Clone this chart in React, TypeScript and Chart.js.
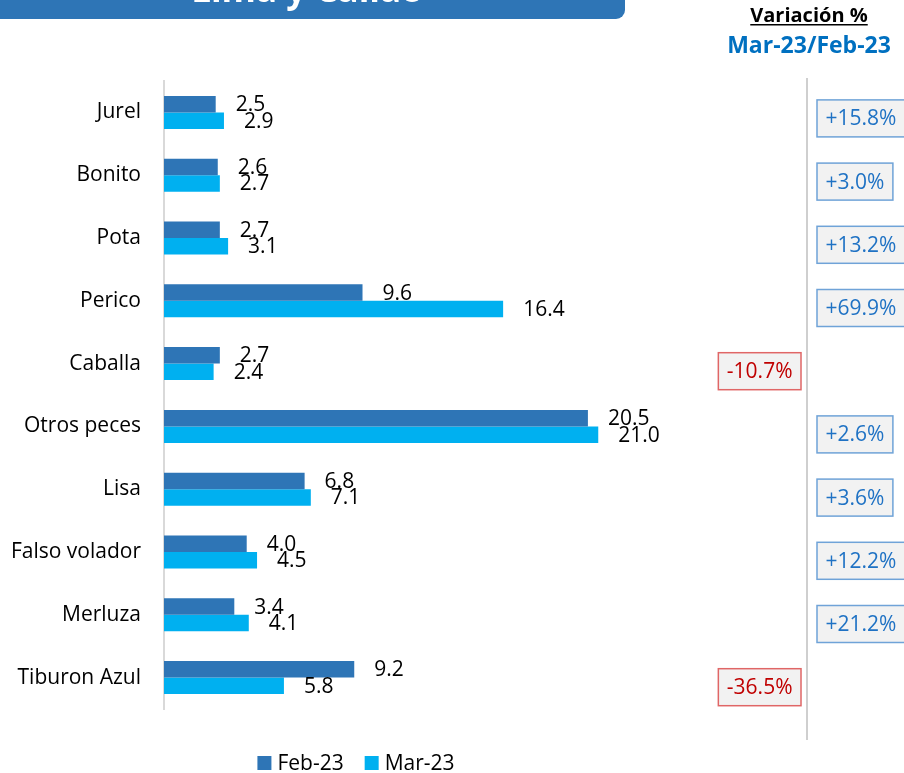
import React, { useEffect, useRef } from 'react';
import { Chart, registerables } from 'chart.js';

Chart.register(...registerables);

const categories = ['Jurel', 'Bonito', 'Pota', 'Perico', 'Caballa', 'Otros peces', 'Lisa', 'Falso volador', 'Merluza', 'Tiburon Azul'];
const feb23 = [2.5, 2.6, 2.7, 9.6, 2.7, 20.5, 6.8, 4.0, 3.4, 9.2];
const mar23 = [2.9, 2.7, 3.1, 16.4, 2.4, 21.0, 7.1, 4.5, 4.1, 5.8];
const variation = [15.8, 3.0, 13.2, 69.9, -10.7, 2.6, 3.6, 12.2, 21.2, -36.5];
const seriesLabels = ['Feb-23', 'Mar-23'];
const titleText = 'Lima y Callao';
const varHeader = 'Variación %';
const varSub = 'Mar-23/Feb-23';

const FEB_COLOR = '#2E75B6';
const MAR_COLOR = '#00B0F0';
const FONT = "'Open Sans', sans-serif";

const decorPlugin = {
  id: 'decor',
  afterDatasetsDraw(chart: any) {
    const ctx = chart.ctx;
    ctx.save();
    ctx.font = `21px ${FONT}`;
    ctx.fillStyle = '#000';
    ctx.textAlign = 'left';
    ctx.textBaseline = 'middle';
    chart.data.datasets.forEach((ds: any, di: number) => {
      const meta = chart.getDatasetMeta(di);
      meta.data.forEach((el: any, i: number) => {
        ctx.fillText(Number(ds.data[i]).toFixed(1), el.x + 20, el.y + 1);
      });
    });
    ctx.restore();
  },
  afterDraw(chart: any) {
    const ctx = chart.ctx;
    const yScale = chart.scales.y;
    ctx.save();

    // Title banner (cut at top)
    ctx.fillStyle = '#2E75B6';
    ctx.beginPath();
    (ctx as any).roundRect(-12, -40, 637, 59, 9);
    ctx.fill();
    ctx.fillStyle = '#FFFFFF';
    ctx.font = `bold 35px ${FONT}`;
    ctx.textAlign = 'center';
    ctx.textBaseline = 'alphabetic';
    ctx.fillText(titleText, 307, 2);

    // Header
    ctx.fillStyle = '#000';
    ctx.font = `bold 20px ${FONT}`;
    ctx.fillText(varHeader, 809, 22);
    const hw = ctx.measureText(varHeader).width;
    ctx.fillRect(809 - hw / 2, 24, hw, 1.5);
    ctx.fillStyle = '#0070C0';
    ctx.font = `bold 23px ${FONT}`;
    ctx.fillText(varSub, 809, 53);

    // Separator line
    const lineX = 807;
    ctx.strokeStyle = '#BFBFBF';
    ctx.lineWidth = 1.5;
    ctx.beginPath();
    ctx.moveTo(lineX, 78);
    ctx.lineTo(lineX, 740);
    ctx.stroke();

    // Variation boxes
    ctx.font = `21px ${FONT}`;
    ctx.textBaseline = 'middle';
    ctx.textAlign = 'left';
    variation.forEach((v, i) => {
      const cy = yScale.getPixelForValue(i) + 6 + i * 0.4;
      const txt = (v >= 0 ? '+' : '') + v.toFixed(1) + '%';
      const tw = ctx.measureText(txt).width;
      const bw = tw + 17;
      const bh = 37;
      const bx = v >= 0 ? lineX + 10 : lineX - 6 - bw;
      const by = cy - bh / 2;
      ctx.fillStyle = '#F2F2F2';
      ctx.fillRect(bx, by, bw, bh);
      ctx.strokeStyle = v >= 0 ? '#6FA3D8' : '#E06666';
      ctx.lineWidth = 1.5;
      ctx.strokeRect(bx, by, bw, bh);
      ctx.fillStyle = v >= 0 ? '#1F72C4' : '#C00000';
      ctx.fillText(txt, bx + 8.5, cy + 1);
    });

    // Legend
    ctx.font = `21px ${FONT}`;
    ctx.textBaseline = 'alphabetic';
    const colors = [FEB_COLOR, MAR_COLOR];
    const widths = seriesLabels.map((l) => 14 + 6 + ctx.measureText(l).width);
    const gap = 21;
    const total = widths.reduce((a, b) => a + b, 0) + gap * (widths.length - 1);
    let lx = 356 - total / 2;
    seriesLabels.forEach((l, i) => {
      ctx.fillStyle = colors[i];
      ctx.fillRect(lx, 756, 14, 14);
      ctx.fillStyle = '#000';
      ctx.fillText(l, lx + 20, 770);
      lx += widths[i] + gap;
    });

    ctx.restore();
  },
};

export default function App() {
  const canvasRef = useRef<HTMLCanvasElement | null>(null);

  useEffect(() => {
    if (!canvasRef.current) return;
    const chart = new Chart(canvasRef.current, {
      type: 'bar',
      data: {
        labels: categories,
        datasets: [
          { label: seriesLabels[0], data: feb23, backgroundColor: FEB_COLOR, borderWidth: 0, categoryPercentage: 0.525, barPercentage: 1 },
          { label: seriesLabels[1], data: mar23, backgroundColor: MAR_COLOR, borderWidth: 0, categoryPercentage: 0.525, barPercentage: 1 },
        ],
      },
      options: {
        indexAxis: 'y',
        responsive: false,
        animation: false,
        layout: { padding: { top: 81, bottom: 64, left: 0, right: 161 } },
        plugins: {
          legend: { display: false },
          tooltip: { enabled: false },
          title: { display: false },
        },
        scales: {
          x: { display: false, min: 0, max: 28 },
          y: {
            afterFit: (scale: any) => { scale.width = 164; },
            grid: { display: false, drawTicks: false },
            border: { display: true, color: '#D9D9D9', width: 2 },
            ticks: { padding: 23, color: '#000', font: { family: FONT, size: 21 } },
          },
        },
      },
      plugins: [decorPlugin],
    } as any);
    return () => chart.destroy();
  }, []);

  return (
    <div style={{ position: 'fixed', left: 0, top: 0, width: 904, height: 773, background: '#fff' }}>
      <canvas ref={canvasRef} width={904} height={773} />
    </div>
  );
}
